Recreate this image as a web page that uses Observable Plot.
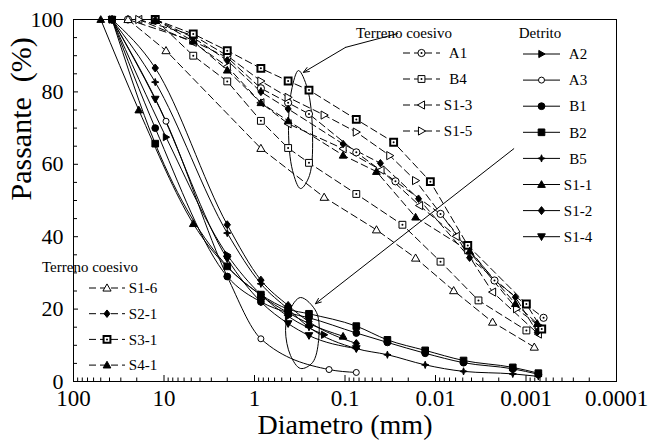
<!DOCTYPE html>
<html><head><meta charset="utf-8">
<script src="https://cdn.jsdelivr.net/npm/d3@7"></script>
<script src="https://cdn.jsdelivr.net/npm/@observablehq/plot@0.6"></script>
<style>
body{margin:0;background:#fff}
</style>
</head><body><div id="chart"></div>
<script>
// ---------- DATA (diameter mm, passante %) ----------
// Terreno coesivo (dashed)
const dA1 = [25,4.75,2,0.85,0.425,0.25,0.075,0.0277,0.0088,0.00223,0.00064];
const pA1 = [100,94,89.5,81,77,73.9,63.3,55.3,46.3,27.9,17.6];
const dB4 = [12.5,4.75,2,0.85,0.425,0.25,0.075,0.0232,0.0088,0.00335,0.00099];
const pB4 = [100,90,82.9,72,64.5,60.4,51.8,43.3,33.1,22.4,14.1];
const dS13 = [19,4.75,2,0.85,0.425,0.105,0.04,0.015,0.0059,0.00234,0.00073];
const pS13 = [100,93.7,87,77,71.2,64.3,58.4,48.6,40.1,24.7,13.1];
const dS15 = [19,4.75,2,0.85,0.425,0.17,0.075,0.032,0.0166,0.0044,0.00127,0.00073];
const pS15 = [100,95.6,90,83,78.5,73.6,68.9,62.4,55.5,36.4,20.1,15.5];
const dS16 = [25,9.5,0.85,0.17,0.0449,0.0166,0.0063,0.00234,0.00081];
const pS16 = [100,91.4,64.4,50.9,41.9,34.1,25.1,16.4,9.5];
const dS21 = [12.5,4.75,2,0.85,0.425,0.105,0.0406,0.0154,0.0042,0.00131,0.00075];
const pS21 = [100,95,88.7,80,75.3,65.6,60.3,50.5,34.2,23.3,13.6];
const dS31 = [12.5,4.75,2,0.85,0.425,0.25,0.075,0.029,0.0114,0.0044,0.00099,0.00067];
const pS31 = [100,96,91.4,86.5,83,80.5,72.4,66.1,55.2,37.6,21.4,14.5];
const dS41 = [12.5,4.75,2,0.85,0.425,0.105,0.045,0.0166,0.0042,0.00131,0.00075];
const pS41 = [100,94,86,77,72,62.5,58,45.4,36,21.5,16];
// Detrito (solid)
const dA2 = [37.5,9.5,2,0.85,0.425,0.17];
const pA2 = [100,67.5,35,24,18,12.9];
const dA3 = [37.5,9.5,2,0.85,0.15,0.075];
const pA3 = [100,71.9,29,11.8,3.3,2.5];
const dB1 = [37.5,12.5,2,0.85,0.425,0.25,0.075,0.034,0.013,0.0049,0.0014,0.00073];
const pB1 = [100,70,29,22,19,17.6,13.4,10.8,7.8,5.2,3.5,2.0];
const dB2 = [37.5,12.5,2,0.85,0.425,0.25,0.075,0.034,0.013,0.0049,0.0014,0.00073];
const pB2 = [100,65.7,31.8,24,20,18.7,15.3,11.5,8.6,5.8,3.9,2.3];
const dB5 = [37.5,12.5,2,0.85,0.425,0.25,0.075,0.034,0.013,0.0049,0.0014,0.00073];
const pB5 = [100,82.7,41,27,20,15,9.1,7.4,4.6,2.8,2.1,1.4];
const dS11 = [50,19,4.75,0.85,0.425,0.25,0.105];
const pS11 = [100,75,43.6,23.8,19,16,12.5];
const dS12 = [37.5,12.5,2,0.85,0.425,0.25,0.075];
const pS12 = [100,86.6,43.3,28,21,16.5,10.5];
const dS14 = [37.5,12.5,2,0.85,0.425,0.25,0.075];
const pS14 = [100,78,33.9,22,16,12.7,9.1];

// Axis ticks and labels
const xTickValues = [100,10,1,0.1,0.01,0.001,0.0001];
const xTickLabels = ["100","10","1","0.1","0.01","0.001","0.0001"];
const yTickValues = [0,20,40,60,80,100];
const yTickLabels = ["0","20","40","60","80","100"];
const yMinorValues = [5,10,15,25,30,35,45,50,55,65,70,75,85,90,95];
const xTitle = "Diametro (mm)";
const yTitle = "Passante  (%)";
const legendCoesivoTitle = "Terreno coesivo";
const legendDetritoTitle = "Detrito";

// Annotation shapes (data coordinates)
const ellUpD = [0.3266,0.39,0.421,0.38,0.31,0.247,0.229,0.26];
const ellUpP = [85.9,80.4,69.3,58.3,53.3,56.9,69.3,80.9];
const ellLoD = [0.31,0.41,0.454,0.40,0.31,0.229,0.196,0.2065];
const ellLoP = [23.2,19.6,14.1,7.2,3.6,5.2,11.3,19.1];
const arrUpD = [0.0263,0.0986,0.288];
const arrUpP = [96.1,92.3,85.4];
const arrLoD = [0.001364,0.2118];
const arrLoP = [64.3,21.5];

// ---------- SYMBOLS ----------
function sym(fn){ return {draw(c,size){ const r=Math.sqrt(size/Math.PI); fn(c,r);} }; }
const SYM = {
  circle: sym((c,r)=>{c.moveTo(r,0); c.arc(0,0,r,0,2*Math.PI); c.closePath();}),
  square: sym((c,r)=>{const s=r*0.95; c.moveTo(-s,-s); c.lineTo(s,-s); c.lineTo(s,s); c.lineTo(-s,s); c.closePath();}),
  diamond: sym((c,r)=>{const s=r*1.25; c.moveTo(0,-s); c.lineTo(s*0.8,0); c.lineTo(0,s); c.lineTo(-s*0.8,0); c.closePath();}),
  star4: sym((c,r)=>{const s=r*1.3, t=r*0.35; c.moveTo(0,-s); c.lineTo(t,-t); c.lineTo(s,0); c.lineTo(t,t); c.lineTo(0,s); c.lineTo(-t,t); c.lineTo(-s,0); c.lineTo(-t,-t); c.closePath();}),
  up: sym((c,r)=>{const s=r*1.2; c.moveTo(0,-s); c.lineTo(s,s*0.75); c.lineTo(-s,s*0.75); c.closePath();}),
  down: sym((c,r)=>{const s=r*1.2; c.moveTo(0,s); c.lineTo(s,-s*0.75); c.lineTo(-s,-s*0.75); c.closePath();}),
  right: sym((c,r)=>{const s=r*1.2; c.moveTo(s,0); c.lineTo(-s*0.75,s); c.lineTo(-s*0.75,-s); c.closePath();}),
  left: sym((c,r)=>{const s=r*1.2; c.moveTo(-s,0); c.lineTo(s*0.75,s); c.lineTo(s*0.75,-s); c.closePath();})
};

const series = [
  {name:"A1", d:dA1, p:pA1, dashed:true, sym:"circle", fill:"white", center:true, r:3.6},
  {name:"B4", d:dB4, p:pB4, dashed:true, sym:"square", fill:"white", center:true, r:3.6},
  {name:"S1-3", d:dS13, p:pS13, dashed:true, sym:"left", fill:"white", r:3.4},
  {name:"S1-5", d:dS15, p:pS15, dashed:true, sym:"right", fill:"white", r:3.4},
  {name:"S1-6", d:dS16, p:pS16, dashed:true, sym:"up", fill:"white", r:3.4},
  {name:"S2-1", d:dS21, p:pS21, dashed:true, sym:"diamond", fill:"black", r:3.0},
  {name:"S3-1", d:dS31, p:pS31, dashed:true, sym:"square", fill:"white", center:true, r:3.6, sw:2},
  {name:"S4-1", d:dS41, p:pS41, dashed:true, sym:"up", fill:"black", r:3.2},
  {name:"A2", d:dA2, p:pA2, sym:"right", fill:"black", r:3.0},
  {name:"A3", d:dA3, p:pA3, sym:"circle", fill:"white", r:3.0},
  {name:"B1", d:dB1, p:pB1, sym:"circle", fill:"black", r:3.4},
  {name:"B2", d:dB2, p:pB2, sym:"square", fill:"black", r:3.5},
  {name:"B5", d:dB5, p:pB5, sym:"star4", fill:"black", r:2.8},
  {name:"S1-1", d:dS11, p:pS11, sym:"up", fill:"black", r:3.2},
  {name:"S1-2", d:dS12, p:pS12, sym:"diamond", fill:"black", r:3.2},
  {name:"S1-4", d:dS14, p:pS14, sym:"down", fill:"black", r:3.2}
];

const FONT = "Liberation Serif";
const DASH = "7,4";

const marks = [Plot.frame({stroke:"black", strokeWidth:1})];

// axes (ticks inward)
const xMinor = [];
for (const dec of [100,10,1,0.1,0.01,0.001]) for (let k=2;k<=9;k++) xMinor.push(dec/10*k);
marks.push(Plot.axisX(xMinor, {anchor:"bottom", tickSize:-3.5, tickFormat:()=>"", label:null}));
marks.push(Plot.axisX(xTickValues, {anchor:"bottom", tickSize:-6, tickFormat:()=>"", label:null}));
marks.push(Plot.axisX(xTickValues, {anchor:"bottom", tickSize:0, tickPadding:8, fontSize:23, fontFamily:FONT, tickFormat:d=>xTickLabels[xTickValues.indexOf(d)], label:null}));
marks.push(Plot.axisY(yMinorValues, {anchor:"left", tickSize:-4, tickFormat:()=>"", label:null}));
marks.push(Plot.axisY(yTickValues, {anchor:"left", tickSize:-5, tickFormat:()=>"", label:null}));
marks.push(Plot.axisY(yTickValues, {anchor:"left", tickSize:0, tickPadding:10, fontSize:22, fontFamily:FONT, tickFormat:d=>yTickLabels[yTickValues.indexOf(d)], label:null}));

// lines
for (const s of series) {
  const rows = s.d.map((d,i)=>({d, p:s.p[i]}));
  marks.push(Plot.line(rows, {x:"d", y:"p", stroke:"black", strokeWidth:1, strokeDasharray: s.dashed ? DASH : null, curve: s.dashed ? "linear" : "monotone-x"}));
}
// annotations
const toRows = (D,P)=>D.map((d,i)=>({d,p:P[i]}));
marks.push(Plot.line(toRows(ellUpD,ellUpP), {x:"d", y:"p", stroke:"black", strokeWidth:1, curve:"catmull-rom-closed"}));
marks.push(Plot.line(toRows(ellLoD,ellLoP), {x:"d", y:"p", stroke:"black", strokeWidth:1, curve:"catmull-rom-closed"}));
marks.push(Plot.line(toRows(arrUpD.slice(0,2),arrUpP.slice(0,2)), {x:"d", y:"p", stroke:"black", strokeWidth:1}));
marks.push(Plot.arrow([0], {x1:()=>arrUpD[1], y1:()=>arrUpP[1], x2:()=>arrUpD[2], y2:()=>arrUpP[2], stroke:"black", strokeWidth:1, headLength:9, headAngle:45}));
marks.push(Plot.arrow([0], {x1:()=>arrLoD[0], y1:()=>arrLoP[0], x2:()=>arrLoD[1], y2:()=>arrLoP[1], stroke:"black", strokeWidth:1, headLength:9, headAngle:45}));
// markers
for (const s of series) {
  const rows = s.d.map((d,i)=>({d, p:s.p[i]}));
  marks.push(Plot.dot(rows, {x:"d", y:"p", symbol:SYM[s.sym], r:s.r, fill:s.fill, stroke:"black", strokeWidth:s.sw||1}));
  if (s.center) marks.push(Plot.dot(rows, {x:"d", y:"p", r:1, fill:"black", stroke:"none"}));
}
// titles
marks.push(Plot.text([xTitle], {text:d=>d, frameAnchor:"bottom", dy:52, fontSize:28, fontFamily:FONT}));
marks.push(Plot.text([yTitle], {text:d=>d, frameAnchor:"left", dx:-52, rotate:-90, fontSize:30, fontFamily:FONT}));

const chart = Plot.plot({
  width:648, height:446,
  marginLeft:73, marginRight:32, marginTop:19, marginBottom:65,
  style:{color:"black", background:"white", overflow:"visible"},
  x:{type:"log", domain:[100,0.0001]},
  y:{domain:[0,100]},
  marks
});
chart.setAttribute("font-family", FONT);
document.getElementById("chart").appendChild(chart);

// ---------- LEGENDS (in-plot, drawn with d3) ----------
const svg = d3.select(chart);
const g = svg.append("g").attr("font-family", FONT).attr("font-size", 15).attr("fill","black");
const byName = Object.fromEntries(series.map(s=>[s.name,s]));
function row(name, x0, x1, y, tx) {
  const s = byName[name];
  g.append("line").attr("x1",x0).attr("x2",x1).attr("y1",y).attr("y2",y)
    .attr("stroke","black").attr("stroke-width",1).attr("stroke-dasharray", s.dashed?DASH:null);
  g.append("path").attr("d", d3.symbol(SYM[s.sym], Math.PI*s.r*s.r)())
    .attr("transform",`translate(${(x0+x1)/2},${y})`).attr("fill",s.fill).attr("stroke","black").attr("stroke-width",s.sw||1);
  if (s.center) g.append("circle").attr("cx",(x0+x1)/2).attr("cy",y).attr("r",1).attr("fill","black");
  g.append("text").attr("x",tx).attr("y",y).attr("dy","0.35em").text(name);
}
g.append("text").attr("x",404).attr("y",33).attr("dy","0.35em").text(legendCoesivoTitle);
["A1","B4","S1-3","S1-5"].forEach((n,i)=>row(n,403,440,53+26*i,458));
g.append("text").attr("x",540).attr("y",33).attr("dy","0.35em").text(legendDetritoTitle);
["A2","A3","B1","B2","B5","S1-1","S1-2","S1-4"].forEach((n,i)=>row(n,523,560,54+26.1*i,578));
g.append("text").attr("x",90).attr("y",267).attr("dy","0.35em").text(legendCoesivoTitle);
["S1-6","S2-1","S3-1","S4-1"].forEach((n,i)=>row(n,89,125,288+25.7*i,143));
</script>
</body></html>
